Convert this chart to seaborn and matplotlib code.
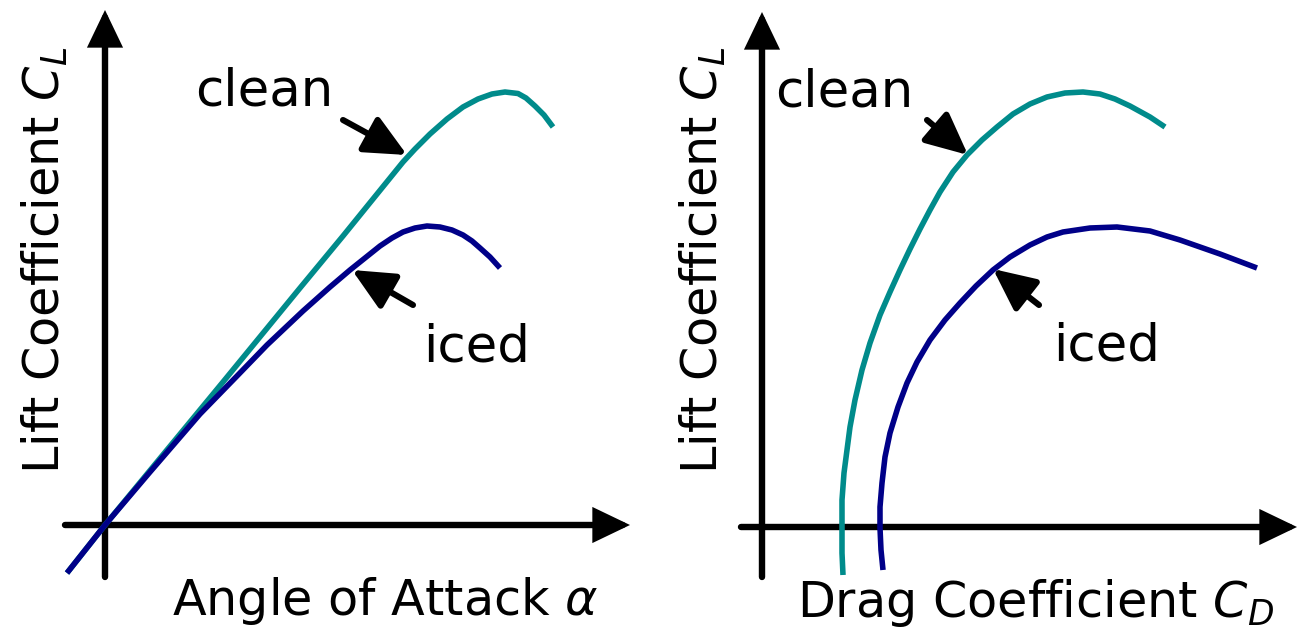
import matplotlib
matplotlib.use("Agg")
import matplotlib.pyplot as plt
import seaborn as sns

# ---- data (chart units; origin at the axes crossing) ----
# Left panel: lift coefficient vs angle of attack
alpha_clean = [-0.38, 0.00, 1.18, 1.95, 2.38, 2.98, 3.10, 3.25, 3.42, 3.58, 3.73, 3.87, 4.00,
               4.13, 4.21, 4.30, 4.39, 4.48]
cl_clean    = [-0.48, 0.00, 1.43, 2.37, 2.89, 3.63, 3.76, 3.91, 4.06, 4.18, 4.26, 4.31, 4.33,
               4.315, 4.27, 4.19, 4.10, 3.98]
alpha_iced  = [-0.38, 0.00, 0.45, 0.95, 1.32, 1.62, 1.98, 2.25, 2.45, 2.60, 2.75, 2.87, 2.98,
               3.10, 3.22, 3.35, 3.47, 3.58, 3.67, 3.75, 3.85, 3.95]
cl_iced     = [-0.48, 0.00, 0.53, 1.11, 1.49, 1.80, 2.14, 2.38, 2.55, 2.67, 2.79, 2.87, 2.93,
               2.97, 2.99, 2.98, 2.95, 2.90, 2.84, 2.77, 2.68, 2.57]

# Right panel: drag polar (lift coefficient vs drag coefficient)
cd_clean  = [0.81, 0.80, 0.80, 0.80, 0.82, 0.85, 0.88, 0.93, 1.00, 1.08, 1.18, 1.28, 1.38, 1.48,
             1.58, 1.68, 1.78, 1.91, 2.05, 2.20, 2.35, 2.51, 2.68, 2.85, 3.03, 3.21, 3.38, 3.53,
             3.68, 3.88, 4.03]
clp_clean = [-0.48, -0.26, -0.01, 0.27, 0.54, 0.77, 1.00, 1.27, 1.57, 1.84, 2.12, 2.35, 2.57, 2.78,
             2.98, 3.17, 3.35, 3.55, 3.72, 3.87, 4.00, 4.13, 4.23, 4.30, 4.34, 4.35, 4.33, 4.28,
             4.21, 4.10, 4.00]
cd_iced   = [1.21, 1.19, 1.18, 1.18, 1.20, 1.23, 1.28, 1.36, 1.45, 1.55, 1.68, 1.83, 1.98, 2.14,
             2.31, 2.48, 2.68, 2.85, 3.01, 3.28, 3.55, 3.88, 4.18, 4.58, 4.95]
clp_iced  = [-0.43, -0.23, -0.01, 0.20, 0.44, 0.70, 0.94, 1.20, 1.44, 1.65, 1.87, 2.07, 2.24, 2.41,
             2.57, 2.70, 2.82, 2.90, 2.95, 2.99, 3.00, 2.96, 2.87, 2.73, 2.59]

labels = ["clean", "iced"]
x_titles = [r"Angle of Attack $\alpha$", r"Drag Coefficient $C_D$"]
y_title = r"Lift Coefficient $C_L$"

CLEAN_COLOR = "#008b8b"
ICED_COLOR = "#000088"

sns.set_theme(style="white")
plt.rcParams["font.family"] = ["DejaVu Sans"]
plt.rcParams["mathtext.fontset"] = "dejavusans"
plt.rcParams["text.color"] = "black"

W, H = 1299, 631
fig = plt.figure(figsize=(W / 100, H / 100), dpi=100)
fig.patch.set_facecolor("white")

# axes placed so that 1 data unit = 100 px
axL = fig.add_axes([0, 0, 650 / W, 1])
axR = fig.add_axes([650 / W, 0, 649 / W, 1])
axL.set_xlim(-1.05, 5.45); axL.set_ylim(-1.06, 5.25)
axR.set_xlim(-1.12, 5.37); axR.set_ylim(-1.04, 5.27)
for ax in (axL, axR):
    ax.set_axis_off()

line_kw = dict(linewidth=4.0, sort=False, estimator=None, legend=False,
               solid_capstyle="butt", solid_joinstyle="round")
sns.lineplot(x=alpha_clean, y=cl_clean, ax=axL, color=CLEAN_COLOR, **line_kw)
sns.lineplot(x=alpha_iced, y=cl_iced, ax=axL, color=ICED_COLOR, **line_kw)
sns.lineplot(x=cd_clean, y=clp_clean, ax=axR, color=CLEAN_COLOR, **line_kw)
sns.lineplot(x=cd_iced, y=clp_iced, ax=axR, color=ICED_COLOR, **line_kw)

def axis_arrow(ax, start, end):
    ax.annotate("", xy=end, xytext=start,
                arrowprops=dict(arrowstyle="-|>,head_length=0.75,head_width=0.36",
                                mutation_scale=26, lw=4.6, color="black",
                                shrinkA=0, shrinkB=0, joinstyle="miter"),
                zorder=1)

def pointer(ax, start, end):
    ax.annotate("", xy=end, xytext=start,
                arrowprops=dict(arrowstyle="-|>,head_length=0.85,head_width=0.4",
                                mutation_scale=30, lw=4.4, color="black",
                                shrinkA=0, shrinkB=0),
                zorder=3)

# axes arrows
axis_arrow(axL, (-0.40, 0), (5.25, 0))
axis_arrow(axL, (0, -0.52), (0, 5.15))
axis_arrow(axR, (-0.21, 0), (5.35, 0))
axis_arrow(axR, (0, -0.50), (0, 5.15))

# pointer arrows
pointer(axL, (2.38, 4.05), (3.02, 3.70))
pointer(axL, (3.08, 2.20), (2.47, 2.55))
pointer(axR, (1.65, 4.07), (2.06, 3.72))
pointer(axR, (2.77, 2.22), (2.31, 2.58))

lab_fs = 37
txt = dict(ha="left", va="baseline", color="black")
axL.text(0.90, 4.20, labels[0], fontsize=lab_fs, **txt)
axL.text(3.18, 1.64, labels[1], fontsize=lab_fs, **txt)
axR.text(0.13, 4.20, labels[0], fontsize=lab_fs, **txt)
axR.text(2.91, 1.66, labels[1], fontsize=lab_fs, **txt)

ax_fs = 35.5
axL.text(0.67, -0.90, x_titles[0], fontsize=ax_fs, **txt)
axR.text(0.35, -0.90, x_titles[1], fontsize=ax_fs, **txt)
axL.text(-0.45, 0.51, y_title, fontsize=ax_fs, rotation=90, rotation_mode="anchor", **txt)
axR.text(-0.44, 0.53, y_title, fontsize=ax_fs, rotation=90, rotation_mode="anchor", **txt)

fig.savefig("out.png", dpi=100, facecolor="white")
